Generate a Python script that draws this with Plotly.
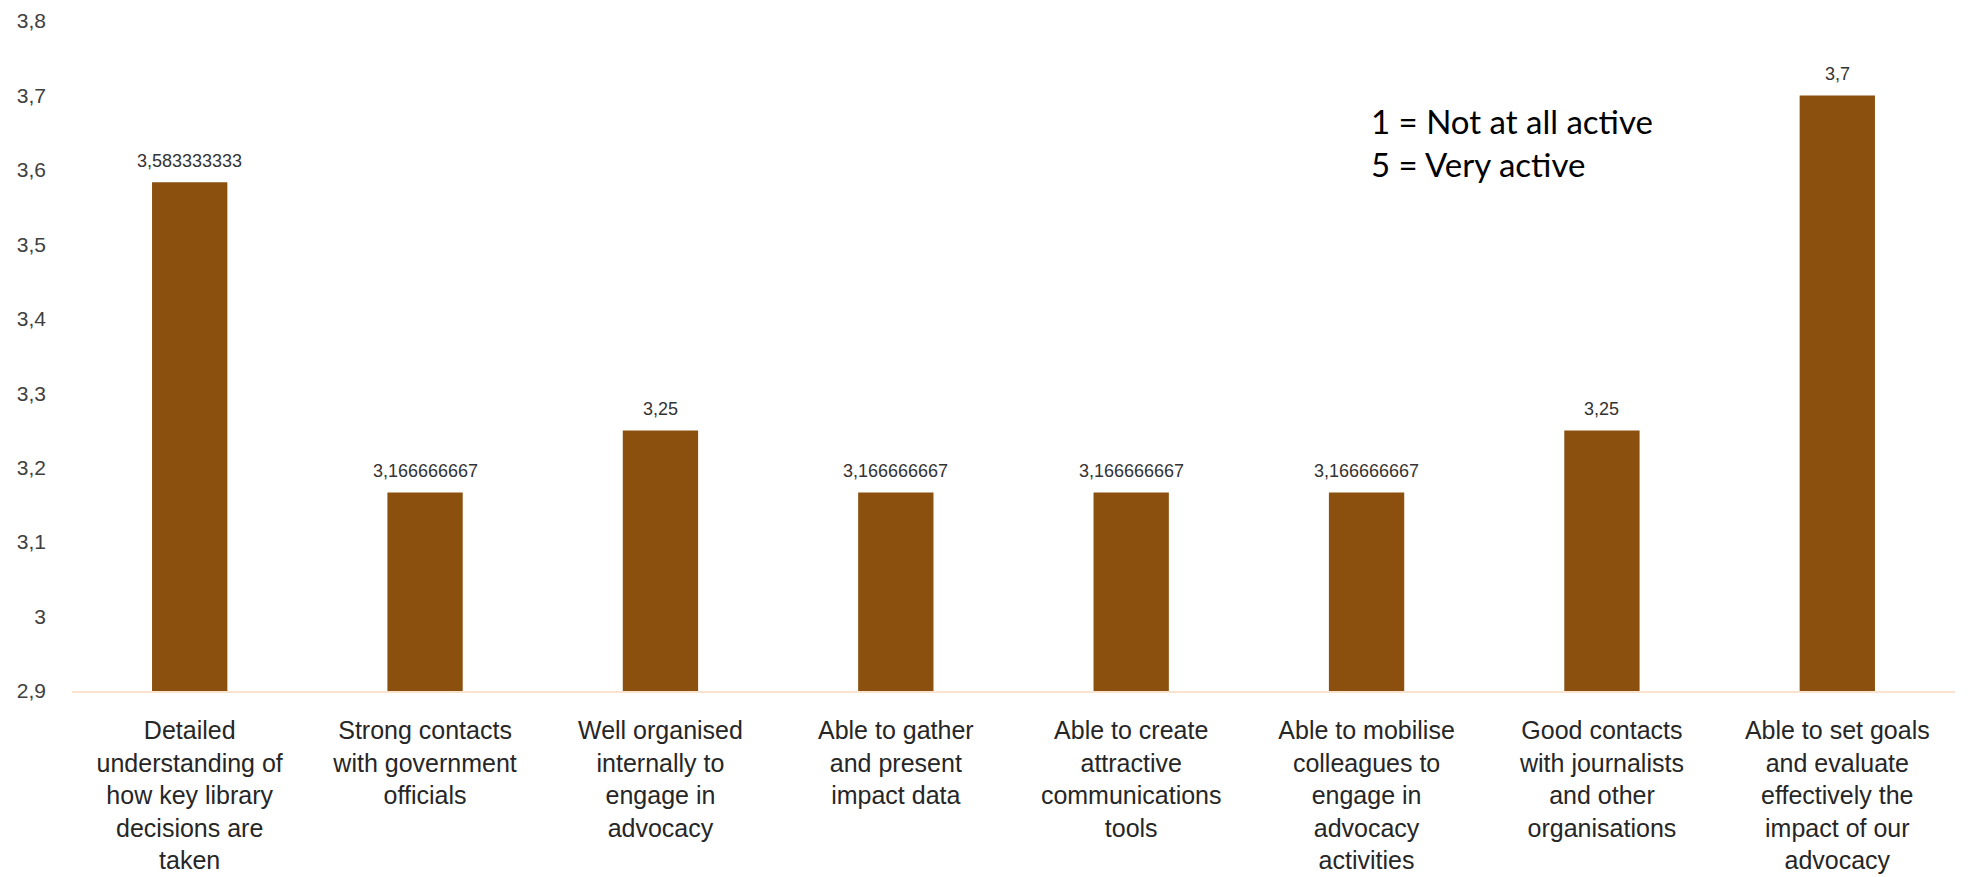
import plotly.graph_objects as go

# Survey capacities (x) and their average activity scores (y)
categories = [
    "Detailed<br>understanding of<br>how key library<br>decisions are<br>taken",
    "Strong contacts<br>with government<br>officials",
    "Well organised<br>internally to<br>engage in<br>advocacy",
    "Able to gather<br>and present<br>impact data",
    "Able to create<br>attractive<br>communications<br>tools",
    "Able to mobilise<br>colleagues to<br>engage in<br>advocacy<br>activities",
    "Good contacts<br>with journalists<br>and other<br>organisations",
    "Able to set goals<br>and evaluate<br>effectively the<br>impact of our<br>advocacy",
]
scores = [3.583333333, 3.166666667, 3.25, 3.166666667,
          3.166666667, 3.166666667, 3.25, 3.7]

y_tick_values = [2.9, 3.0, 3.1, 3.2, 3.3, 3.4, 3.5, 3.6, 3.7, 3.8]
y_tick_labels = ["2,9", "3", "3,1", "3,2", "3,3", "3,4", "3,5", "3,6", "3,7", "3,8"]

scale_note = ["1 = Not at all active", "5 = Very active"]

# Value labels use a decimal comma
value_labels = [f"{v:.10g}".replace(".", ",") for v in scores]

x_pos = list(range(len(categories)))

fig = go.Figure(
    go.Bar(
        x=x_pos,
        y=[v - 2.9 for v in scores],
        base=2.9,
        width=0.32,
        marker=dict(color="#8B500E", line=dict(width=0)),
        hoverinfo="skip",
    )
)

# Value label above each bar, anchored at the bar's own value
for xi, v, lab in zip(x_pos, scores, value_labels):
    fig.add_annotation(
        x=xi, y=v, xref="x", yref="y",
        text=lab, showarrow=False,
        xanchor="center", yanchor="middle", yshift=21,
        font=dict(family="Liberation Sans, Arial", size=18, color="#333333"),
    )

fig.add_annotation(
    x=0.689, y=0.819, xref="paper", yref="paper",
    xanchor="left", yanchor="middle",
    text="<br>".join(scale_note),
    showarrow=False, align="left",
    font=dict(family="Lato, Carlito, Calibri", size=33, color="#000000"),
)

fig.update_layout(
    width=1980, height=877,
    margin=dict(l=72, r=25, t=21, b=186, autoexpand=False),
    plot_bgcolor="white", paper_bgcolor="white",
    showlegend=False,
)

fig.update_xaxes(
    range=[-0.5, len(categories) - 0.5],
    tickvals=x_pos,
    ticktext=categories,
    showgrid=False, zeroline=False,
    showline=True, linecolor="#F9E3CE", linewidth=2,
    ticks="", ticklabelstandoff=16, automargin=False,
    tickfont=dict(family="Liberation Sans, Arial", size=25, color="#262626"),
    fixedrange=True,
)

fig.update_yaxes(
    range=[2.9, 3.8],
    tickvals=y_tick_values, ticktext=y_tick_labels,
    showgrid=False, zeroline=False, showline=False,
    ticks="", ticklabelstandoff=25, automargin=False,
    tickfont=dict(family="Liberation Sans, Arial", size=21, color="#404040"),
    fixedrange=True,
)

fig.write_html("out.html")
